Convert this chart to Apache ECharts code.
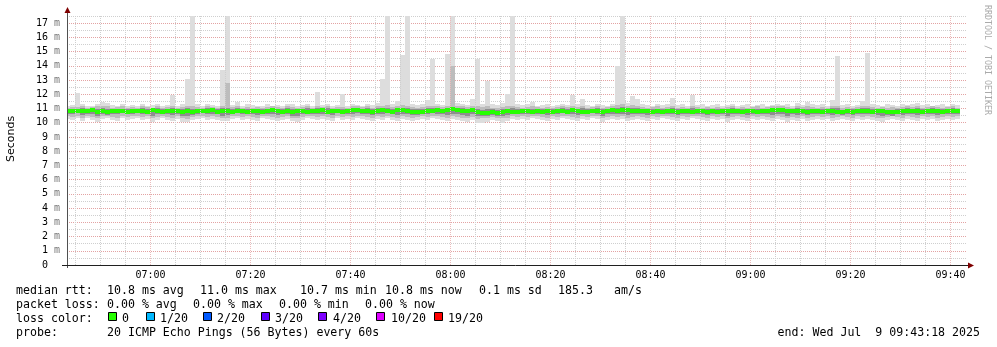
<!DOCTYPE html>
<html><head><meta charset="utf-8">
<script src="https://cdn.jsdelivr.net/npm/echarts@6/dist/echarts.min.js"></script>
<style>html,body{margin:0;padding:0;background:#fff}#c{width:997px;height:347px}</style>
</head><body><div id="c"></div>
<script>
// ---- data (ms), one entry per 60 s step starting 06:43 ----
const stepStart = '06:43';
const stepSeconds = 60;
const medianMs = [
10.80,10.80,10.84,10.84,10.80,10.88,10.76,10.80,10.72,10.80,
10.84,10.80,10.76,10.80,10.84,10.80,10.76,10.88,10.80,10.72,
10.80,10.84,10.80,10.76,10.80,10.72,10.84,10.80,10.80,10.88,
10.76,10.84,10.80,10.72,10.80,10.84,10.76,10.80,10.80,10.72,
10.80,10.88,10.80,10.76,10.84,10.72,10.80,10.80,10.76,10.84,
10.80,10.88,10.76,10.80,10.84,10.76,10.80,10.88,10.92,10.80,
10.84,10.72,10.80,10.88,10.80,10.76,10.88,10.92,10.84,10.72,
10.72,10.76,10.80,10.80,10.88,10.84,10.92,10.96,10.88,10.84,
10.80,10.88,10.72,10.68,10.68,10.76,10.68,10.72,10.80,10.76,
10.76,10.80,10.80,10.72,10.84,10.76,10.80,10.76,10.84,10.80,
10.76,10.88,10.80,10.72,10.76,10.80,10.84,10.76,10.80,10.88,
10.84,10.92,10.88,10.80,10.84,10.80,10.80,10.76,10.80,10.72,
10.80,10.84,10.76,10.80,10.80,10.76,10.80,10.80,10.72,10.80,
10.76,10.80,10.80,10.84,10.80,10.72,10.80,10.80,10.76,10.80,
10.84,10.88,10.92,10.88,10.80,10.80,10.84,10.80,10.76,10.80,
10.80,10.72,10.80,10.84,10.76,10.72,10.80,10.76,10.80,10.84,
10.80,10.76,10.80,10.84,10.72,10.72,10.76,10.80,10.80,10.84,
10.80,10.72,10.80,10.84,10.80,10.76,10.80,10.84,10.80];
const maxMs = [
11.20,11.25,12.10,11.30,11.20,11.15,11.35,11.47,11.40,11.25,
11.20,11.30,11.15,11.25,11.20,11.30,11.15,11.25,11.35,11.20,
11.25,11.94,11.20,11.30,13.06,19.50,11.30,11.20,11.35,11.25,
11.20,13.70,20.20,11.25,11.47,11.20,11.30,11.25,11.20,11.15,
11.30,11.20,11.25,11.20,11.30,11.35,11.20,11.25,11.30,11.20,
12.17,11.25,11.30,11.20,11.25,12.00,11.20,11.30,11.25,11.20,
11.30,11.25,11.40,13.10,19.80,11.30,11.50,14.75,21.00,11.35,
11.25,11.30,11.60,14.50,11.30,11.25,14.80,20.50,11.40,11.30,
11.25,11.65,14.50,11.35,12.90,11.30,11.25,11.40,12.00,19.60,
11.30,11.25,11.30,11.47,11.20,11.25,11.30,11.20,11.25,11.30,
11.25,11.94,11.30,11.66,11.25,11.20,11.30,11.25,11.20,11.30,
14.00,20.80,11.40,11.87,11.70,11.30,11.25,11.20,11.30,11.25,
11.30,11.75,11.25,11.30,11.20,11.94,11.25,11.30,11.20,11.25,
11.30,11.20,11.25,11.30,11.20,11.25,11.30,11.20,11.25,11.30,
11.20,11.25,11.30,11.25,11.30,11.20,11.40,11.25,11.45,11.30,
11.25,11.30,11.20,11.60,14.70,11.25,11.30,11.20,11.24,11.54,
14.90,11.30,11.25,11.20,11.30,11.25,11.20,11.30,11.25,11.30,
11.40,11.25,11.30,11.20,11.25,11.30,11.20,11.30,11.25];
const minMs = [
10.25,10.20,10.30,10.15,10.30,10.20,10.05,10.25,10.30,10.20,
10.15,10.30,10.20,10.25,10.30,10.20,10.25,10.05,10.20,10.30,
10.20,10.15,10.25,10.05,10.05,10.20,10.25,10.30,10.20,10.25,
10.20,10.10,10.15,10.25,10.30,10.20,10.25,10.20,10.15,10.30,
10.25,10.20,10.10,10.20,10.25,10.15,10.05,10.20,10.30,10.25,
10.20,10.25,10.20,10.15,10.30,10.20,10.25,10.20,10.30,10.25,
10.20,10.15,10.25,10.20,10.30,10.20,10.10,10.25,10.20,10.15,
10.20,10.25,10.20,10.30,10.25,10.20,10.15,10.25,10.20,10.10,
10.05,10.20,9.95,10.00,10.05,10.20,10.10,10.00,10.15,10.25,
10.20,10.25,10.20,10.30,10.25,10.20,10.10,10.25,10.20,10.30,
10.25,10.20,10.15,10.25,10.20,10.30,10.25,10.05,10.20,10.25,
10.20,10.25,10.15,10.20,10.25,10.20,10.15,10.25,10.20,10.30,
10.25,10.20,10.15,10.25,10.20,10.30,10.25,10.20,10.15,10.25,
10.20,10.25,10.05,10.20,10.25,10.20,10.15,10.25,10.20,10.25,
10.20,10.10,10.25,10.20,10.05,10.20,10.15,10.25,10.10,10.20,
10.25,10.20,10.25,10.15,10.20,10.25,10.20,10.15,10.25,10.20,
10.25,10.20,10.15,10.05,10.20,10.25,10.20,10.15,10.25,10.20,
10.15,10.25,10.20,10.25,10.15,10.20,10.25,10.20,10.25];
const upperMidMs = [
11.05,11.10,11.10,11.15,11.05,11.10,11.15,11.20,11.15,11.05,
11.10,11.15,11.05,11.10,11.05,11.15,11.10,11.05,11.15,11.05,
11.10,11.15,11.05,11.10,11.15,11.20,11.10,11.05,11.15,11.10,
11.05,11.15,12.80,11.10,11.15,11.05,11.10,11.05,11.10,11.05,
11.10,11.15,11.10,11.05,11.15,11.10,11.05,11.10,11.15,11.05,
11.15,11.10,11.15,11.05,11.10,11.10,11.05,11.15,11.20,11.10,
11.15,11.05,11.15,11.20,11.25,11.10,11.20,11.25,11.20,11.10,
11.05,11.10,11.15,11.20,11.15,11.10,11.20,14.00,11.20,11.15,
11.10,11.15,11.20,11.10,11.15,11.05,11.05,11.10,11.15,11.20,
11.10,11.05,11.10,11.15,11.10,11.05,11.10,11.05,11.10,11.15,
11.10,11.15,11.10,11.20,11.05,11.10,11.15,11.05,11.10,11.15,
11.25,11.35,11.20,11.25,11.20,11.10,11.05,11.10,11.15,11.05,
11.10,11.15,11.05,11.10,11.05,11.15,11.10,11.05,11.10,11.05,
11.10,11.05,11.10,11.15,11.05,11.10,11.05,11.10,11.15,11.05,
11.10,11.15,11.20,11.15,11.10,11.05,11.15,11.10,11.15,11.10,
11.05,11.10,11.05,11.15,11.20,11.05,11.10,11.05,11.10,11.15,
11.20,11.10,11.05,11.10,11.05,11.10,11.05,11.10,11.15,11.10,
11.15,11.05,11.10,11.15,11.10,11.05,11.10,11.15,11.05];
const lowerMidMs = [
10.45,10.40,10.50,10.35,10.45,10.40,10.30,10.45,10.50,10.40,
10.35,10.50,10.40,10.45,10.50,10.40,10.45,10.30,10.40,10.50,
10.40,10.35,10.45,10.30,10.25,10.40,10.45,10.50,10.40,10.45,
10.40,10.30,10.35,10.45,10.50,10.40,10.45,10.40,10.35,10.50,
10.45,10.40,10.30,10.40,10.45,10.35,10.30,10.40,10.50,10.45,
10.40,10.45,10.40,10.35,10.50,10.40,10.45,10.40,10.50,10.45,
10.40,10.35,10.45,10.40,10.50,10.40,10.35,10.45,10.40,10.35,
10.40,10.45,10.40,10.50,10.45,10.40,10.35,10.45,10.40,10.35,
10.30,10.40,10.25,10.30,10.30,10.40,10.30,10.30,10.35,10.45,
10.40,10.45,10.40,10.50,10.45,10.40,10.35,10.45,10.40,10.50,
10.45,10.40,10.35,10.45,10.40,10.50,10.45,10.30,10.40,10.45,
10.40,10.45,10.35,10.40,10.45,10.40,10.35,10.45,10.40,10.50,
10.45,10.40,10.35,10.45,10.40,10.50,10.45,10.40,10.35,10.45,
10.40,10.45,10.30,10.40,10.45,10.40,10.35,10.45,10.40,10.45,
10.40,10.35,10.45,10.40,10.30,10.40,10.35,10.45,10.35,10.40,
10.45,10.40,10.45,10.35,10.40,10.45,10.40,10.35,10.45,10.40,
10.45,10.40,10.35,10.30,10.40,10.45,10.40,10.35,10.45,10.40,
10.35,10.45,10.40,10.45,10.35,10.40,10.45,10.40,10.45];
const upperInMs = [
10.95,10.98,10.96,11.00,10.95,10.98,10.96,11.02,10.96,10.95,
10.98,10.96,10.94,10.98,10.96,11.00,10.95,10.98,11.00,10.94,
10.96,11.00,10.95,10.98,11.00,10.98,10.96,10.95,11.00,10.98,
10.95,11.00,11.05,10.95,11.00,10.96,10.98,10.95,10.98,10.94,
10.98,11.00,10.96,10.95,11.00,10.96,10.95,10.98,11.00,10.96,
11.00,10.98,11.00,10.95,10.98,10.96,10.95,11.00,11.02,10.98,
11.00,10.94,11.00,11.02,11.05,10.96,11.04,11.05,11.02,10.95,
10.94,10.96,11.00,11.02,11.00,10.98,11.05,11.10,11.02,11.00,
10.96,11.00,10.94,10.92,10.94,10.95,10.90,10.94,10.98,11.00,
10.96,10.95,10.98,10.98,10.98,10.95,10.96,10.95,10.98,11.00,
10.96,11.00,10.98,11.00,10.95,10.96,11.00,10.95,10.98,11.00,
11.02,11.08,11.02,11.02,11.00,10.96,10.95,10.96,10.98,10.94,
10.96,11.00,10.95,10.98,10.95,11.00,10.96,10.95,10.94,10.96,
10.96,10.95,10.98,11.00,10.95,10.94,10.96,10.98,10.96,10.95,
10.98,11.02,11.05,11.02,10.98,10.95,11.00,10.96,10.98,10.96,
10.95,10.94,10.96,11.00,11.00,10.92,10.96,10.95,10.98,11.00,
11.02,10.96,10.95,10.98,10.92,10.92,10.95,10.98,11.00,10.98,
11.00,10.94,10.98,11.00,10.96,10.95,10.98,11.00,10.96];
const lowerInMs = [
10.62,10.58,10.65,10.55,10.62,10.60,10.50,10.58,10.55,10.62,
10.60,10.65,10.58,10.62,10.65,10.58,10.60,10.50,10.58,10.62,
10.60,10.55,10.62,10.50,10.48,10.56,10.62,10.65,10.58,10.62,
10.58,10.50,10.52,10.60,10.65,10.58,10.62,10.58,10.55,10.62,
10.62,10.58,10.52,10.58,10.62,10.50,10.48,10.58,10.65,10.62,
10.58,10.62,10.58,10.55,10.65,10.58,10.62,10.58,10.65,10.62,
10.58,10.55,10.62,10.58,10.65,10.58,10.55,10.62,10.58,10.52,
10.56,10.62,10.58,10.65,10.62,10.58,10.55,10.62,10.58,10.52,
10.50,10.58,10.45,10.48,10.48,10.56,10.46,10.50,10.55,10.60,
10.58,10.62,10.58,10.65,10.62,10.58,10.52,10.62,10.58,10.65,
10.62,10.58,10.55,10.62,10.58,10.65,10.62,10.50,10.58,10.62,
10.58,10.62,10.55,10.58,10.62,10.58,10.55,10.62,10.58,10.65,
10.62,10.58,10.55,10.62,10.58,10.65,10.62,10.58,10.55,10.62,
10.58,10.62,10.50,10.58,10.62,10.58,10.55,10.62,10.58,10.62,
10.58,10.52,10.62,10.58,10.48,10.58,10.55,10.62,10.52,10.58,
10.62,10.58,10.62,10.55,10.58,10.52,10.58,10.55,10.62,10.58,
10.62,10.58,10.55,10.48,10.52,10.50,10.58,10.55,10.62,10.58,
10.55,10.60,10.58,10.62,10.55,10.58,10.62,10.58,10.62];
const xTickLabels = ['07:00','07:20','07:40','08:00','08:20','08:40','09:00','09:20','09:40'];
const lossLabels = ['0','1/20','2/20','3/20','4/20','10/20','19/20'];
const lossColors = ['#26ff00','#00b8ff','#0059ff','#5e00ff','#7e00ff','#dd00ff','#ff0000'];
const graphStart = '06:43:18';
const graphEnd = '09:43:18';
const yMaxMs = 17.5;

// ---- helpers ----
function toSec(s){const p=s.split(':').map(Number);return p[0]*3600+p[1]*60+(p[2]||0);}
function fmt(sec){const h=Math.floor(sec/3600),m=Math.floor(sec%3600/60);return String(h).padStart(2,'0')+':'+String(m).padStart(2,'0');}
const t0 = toSec(stepStart);
const xMin = toSec(graphStart), xMax = toSec(graphEnd);
const GRID = '#cfcfcf';
const MGRID = '#e3a3a3';
const MGRID_V = '#ebbcbc';

const smokeData = medianMs.map((m,i)=>[t0+i*stepSeconds, t0+(i+1)*stepSeconds, minMs[i], maxMs[i], lowerMidMs[i], upperMidMs[i], lowerInMs[i], upperInMs[i], m]);

// vertical grid every 5 minutes, major every 20 minutes
const vGridLines = [];
for (let t=toSec('06:45'); t<xMax; t+=300) vGridLines.push({xAxis:t, lineStyle:{color:(t%1200===0)?MGRID_V:GRID, type:[1,1], width:1}});

function renderSmoke(params, api){
  const a=api.value(0), b=api.value(1);
  const xa=Math.floor(api.coord([a,0])[0]), xb=Math.floor(api.coord([b,0])[0]);
  const band=(lo,hi,fill)=>{const yt=Math.round(api.coord([a,hi])[1]);const yb=Math.round(api.coord([a,lo])[1]);
    return {type:'rect',shape:{x:xa,y:yt,width:xb-xa,height:yb-yt},style:{fill}};};
  const ym=Math.round(api.coord([a,api.value(8)])[1]);
  return {type:'group',children:[
    band(api.value(2),api.value(3),'#dddddd'),
    band(api.value(4),api.value(5),'#bdbdbd'),
    band(api.value(6),api.value(7),'#8e8e8e'),
    {type:'rect',shape:{x:xa,y:ym-2,width:xb-xa,height:4},style:{fill:'#26ff00'}}
  ]};
}

const MONO='"DejaVu Sans Mono", monospace';
const LF='11.6px '+MONO;
function T(x,y,text,align){return {type:'text',x,y,z:100,silent:true,style:{text,font:LF,fill:'#000',align:align||'left',verticalAlign:'middle'}};}
const graphics=[
  {type:'line',z:100,shape:{x1:67.5,y1:12,x2:67.5,y2:268},style:{stroke:'#505050',lineWidth:1},silent:true},
  {type:'line',z:100,shape:{x1:62,y1:265.5,x2:969,y2:265.5},style:{stroke:'#202020',lineWidth:1},silent:true},
  {type:'polygon',z:100,shape:{points:[[64.5,13],[70.5,13],[67.5,7]]},style:{fill:'#7f0000'},silent:true},
  {type:'polygon',z:100,shape:{points:[[968,262.5],[968,268.5],[974,265.5]]},style:{fill:'#7f0000'},silent:true},
  {type:'text',z:100,x:11,y:139,rotation:Math.PI/2,silent:true,style:{text:'Seconds',font:'11px "DejaVu Sans", sans-serif',fill:'#000',align:'center',verticalAlign:'middle'}},
  {type:'text',z:100,x:987,y:60,rotation:-Math.PI/2,silent:true,style:{text:'RRDTOOL / TOBI OETIKER',font:'8.3px '+MONO,fill:'#aaaaaa',align:'center',verticalAlign:'middle'}},
  T(16,291,'median rtt:'), T(107,291,'10.8 ms avg'), T(200,291,'11.0 ms max'), T(300,291,'10.7 ms min'),
  T(385,291,'10.8 ms now'), T(479,291,'0.1 ms sd'), T(558,291,'185.3'), T(614,291,'am/s'),
  T(16,305,'packet loss:'), T(107,305,'0.00 % avg'), T(193,305,'0.00 % max'), T(279,305,'0.00 % min'), T(365,305,'0.00 % now'),
  T(16,319,'loss color:'),
  T(16,333,'probe:'), T(107,333,'20 ICMP Echo Pings (56 Bytes) every 60s'),
  T(980,333,'end: Wed Jul  9 09:43:18 2025','right')
];
const boxX=[108,146,203,261,318,376,434];
const labX=[122,160,217,275,333,391,448];
lossLabels.forEach((l,i)=>{
  graphics.push({type:'rect',z:100,silent:true,shape:{x:boxX[i]+0.5,y:312.5,width:8,height:8},style:{fill:lossColors[i],stroke:'#000',lineWidth:1}});
  graphics.push(T(labX[i],319,l));
});

const chart = echarts.init(document.getElementById('c'), null, {renderer:'canvas'});
chart.setOption({
  animation:false,
  backgroundColor:'#ffffff',
  grid:{left:67,right:30,top:16,bottom:82,containLabel:false},
  xAxis:{type:'value',min:xMin,max:xMax,
    axisLine:{show:false},axisTick:{show:false},splitLine:{show:false},
    axisLabel:{customValues:xTickLabels.map(toSec),formatter:v=>fmt(v),margin:5,
      fontFamily:'DejaVu Sans Mono',fontSize:10,color:'#000'}},
  yAxis:[
    {type:'value',min:0,max:yMaxMs,interval:0.5,
      axisLine:{show:false},axisTick:{show:false},axisLabel:{show:false},
      splitLine:{show:true,showMinLine:false,showMaxLine:true,lineStyle:{color:GRID,type:[1,1],width:1}}},
    {type:'value',min:0,max:yMaxMs,interval:1,position:'left',
      axisLine:{show:false},axisTick:{show:false},
      splitLine:{show:true,showMinLine:false,showMaxLine:false,lineStyle:{color:MGRID,type:[1,1],width:1}},
      axisLabel:{showMaxLabel:false,margin:7,fontFamily:'DejaVu Sans Mono',fontSize:10,color:'#000',
        formatter:v=>v===0?'0  ':(v+' {u|m}'),rich:{u:{fontFamily:'DejaVu Sans Mono',fontSize:10,color:'#777'}}}}
  ],
  series:[
    {type:'line',name:'vgrid',data:[],silent:true,z:1,
      markLine:{silent:true,symbol:['none','none'],animation:false,label:{show:false},
        emphasis:{disabled:true},data:vGridLines}},
    {type:'custom',name:'smoke',renderItem:renderSmoke,data:smokeData,clip:true,silent:true,z:2,
      encode:{x:[0,1],y:[2,3]}}
  ],
  graphic:graphics
});
</script></body></html>
